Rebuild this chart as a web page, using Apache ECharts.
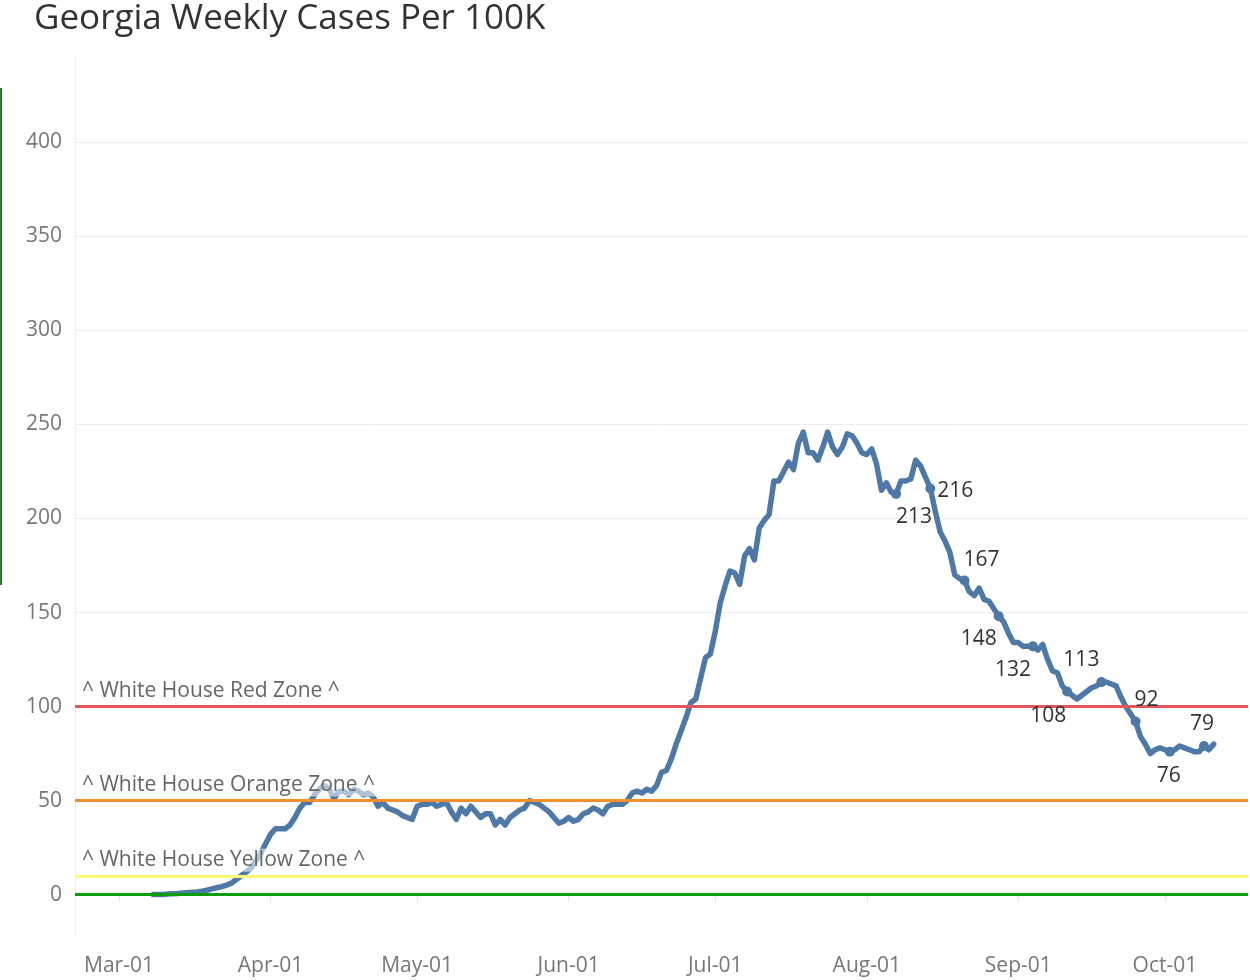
<!DOCTYPE html>
<html>
<head>
<meta charset="utf-8">
<script src="https://cdn.jsdelivr.net/npm/echarts@6/dist/echarts.min.js"></script>
<style>
  html, body { margin: 0; padding: 0; background: #fff; }
  #chart { width: 1250px; height: 980px; }
</style>
</head>
<body>
<div id="chart"></div>
<script>
// daily weekly-cases-per-100K, starting Mar 8 2020
const march = [0, 0, 0, 0.3, 0.5, 0.6, 0.8, 1, 1.2, 1.4, 1.8, 2.3, 3, 3.6, 4.2, 5, 6, 8, 10, 12, 14, 18, 22, 27]
const april = [32, 35, 35, 35, 37, 41, 46, 49, 49, 53, 56, 58, 56, 51, 55, 55, 53, 56, 55, 53, 54, 52, 47, 49, 46, 45, 44, 42, 41, 40]
const may = [47, 48, 48, 49, 47, 48, 49, 44, 40, 46, 43, 47, 44, 41, 43, 43, 37, 40, 37, 41, 43, 45, 46, 50, 49, 48, 46, 44, 41, 38, 39]
const june = [41, 39, 40, 43, 44, 46, 45, 43, 47, 48, 48, 48, 50, 54, 55, 54, 56, 55, 58, 65, 66, 72, 80, 87, 94, 102, 104, 115, 126, 128]
const july = [140, 155, 164, 172, 171, 165, 180, 184, 178, 195, 199, 202, 220, 220, 225, 230, 226, 240, 246, 235, 235, 231, 238, 246, 238, 234, 238, 245, 244, 240, 235]
const august = [234, 237, 229, 215, 219, 214, 213, 220, 220, 221, 231, 228, 222, 216, 204, 193, 188, 182, 170, 168, 167, 161, 159, 163, 157, 156, 152, 148, 145, 139, 134]
const september = [134, 132, 132, 132, 130, 133, 125, 119, 118, 111, 108, 106, 104, 106, 108, 110, 111, 113, 113, 112, 111, 105, 100, 96, 92, 84, 80, 75, 77, 78]
const october = [77, 76, 77, 79, 78, 77, 76, 76, 79, 77, 80]

// weekly labelled points (month index, day)
const labelDates = [[7, 7], [7, 14], [7, 21], [7, 28], [8, 4], [8, 11], [8, 18], [8, 25], [9, 2], [9, 9]]

const zoneValues = [100, 50, 10, 0]
const zoneNames = ['^ White House Red Zone ^', '^ White House Orange Zone ^', '^ White House Yellow Zone ^', '']

const yTicks = [0, 50, 100, 150, 200, 250, 300, 350, 400]
const monthTicks = [2, 3, 4, 5, 6, 7, 8, 9]
const monthNames = ['Jan', 'Feb', 'Mar', 'Apr', 'May', 'Jun', 'Jul', 'Aug', 'Sep', 'Oct', 'Nov', 'Dec']

const cases = [].concat(march, april, may, june, july, august, september, october)
const lineData = cases.map((v, i) => [new Date(2020, 2, 8 + i).getTime(), v])

// text offsets of the labelled points
const labelOffsets = [[18, 23], [25, 3], [17, -21], [-20, 23], [-20, 24], [-19, 25], [-20, -22], [11, -22], [-1, 24], [-2, -22]]
const zoneColors = ['#e15759', '#f28e2b', '#fbf976', '#0a9e0a']

const labelData = labelDates.map((d, i) => {
  const t = new Date(2020, d[0], d[1]).getTime()
  const item = lineData.find(p => p[0] === t)
  return {
    value: item,
    label: { offset: labelOffsets[i] }
  }
})

const monthStarts = monthTicks.map(m => new Date(2020, m, 1).getTime())
const font = '"Open Sans", "Noto Sans", sans-serif'

const chart = echarts.init(document.getElementById('chart'))
chart.setOption({
  animation: false,
  backgroundColor: '#fff',
  textStyle: { fontFamily: font },
  title: {
    text: 'Georgia Weekly Cases Per 100K',
    left: 29,
    top: -3,
    textStyle: { fontFamily: font, fontSize: 35, fontWeight: 'normal', color: '#333' }
  },
  graphic: [{
    type: 'rect',
    shape: { x: 0, y: 88, width: 2, height: 497 },
    style: { fill: '#2b7a2b' }
  }],
  grid: { left: 75, right: 2, top: 55, bottom: 45 },
  xAxis: {
    type: 'value',
    min: new Date(2020, 1, 21).getTime(),
    max: new Date(2020, 9, 18).getTime(),
    axisLine: { show: true, lineStyle: { color: '#e6e6e6', width: 1 } },
    axisTick: {
      show: true,
      length: 7,
      lineStyle: { color: '#e6e6e6' },
      customValues: monthStarts
    },
    axisLabel: {
      customValues: monthStarts,
      color: '#777',
      fontSize: 21,
      margin: 21,
      formatter: v => monthNames[new Date(v).getMonth()] + '-01'
    },
    splitLine: { show: false }
  },
  yAxis: {
    type: 'value',
    min: -21.5,
    max: 446.5,
    axisLine: { show: true, lineStyle: { color: '#f0f0f0' } },
    axisTick: { show: false, customValues: yTicks },
    axisLabel: { customValues: yTicks, color: '#777', fontSize: 21, margin: 13 },
    splitLine: { show: true, lineStyle: { color: '#ededed', width: 1 } }
  },
  series: [
    {
      type: 'line',
      data: lineData,
      showSymbol: false,
      z: 2,
      lineStyle: { color: '#4e79a7', width: 5.5, cap: 'round', join: 'round' }
    },
    {
      type: 'line',
      data: lineData,
      showSymbol: false,
      silent: true,
      z: 4,
      lineStyle: { opacity: 0 },
      markLine: {
        silent: true,
        symbol: ['none', 'none'],
        data: zoneValues.map((v, i) => ({
          yAxis: v,
          lineStyle: { color: zoneColors[i], width: 3, type: 'solid' },
          label: {
            show: zoneNames[i] !== '',
            formatter: zoneNames[i],
            position: 'insideStartTop',
            distance: [5, 4],
            color: '#666',
            fontSize: 21,
            backgroundColor: 'rgba(255,255,255,0.55)',
            padding: [1, 2, 1, 2]
          }
        }))
      }
    },
    {
      type: 'scatter',
      data: labelData,
      z: 5,
      symbolSize: 10,
      itemStyle: { color: '#4e79a7', opacity: 1 },
      label: {
        show: true,
        position: 'inside',
        formatter: p => Math.round(p.value[1]),
        color: '#333',
        fontSize: 21
      }
    }
  ]
})
</script>
</body>
</html>
